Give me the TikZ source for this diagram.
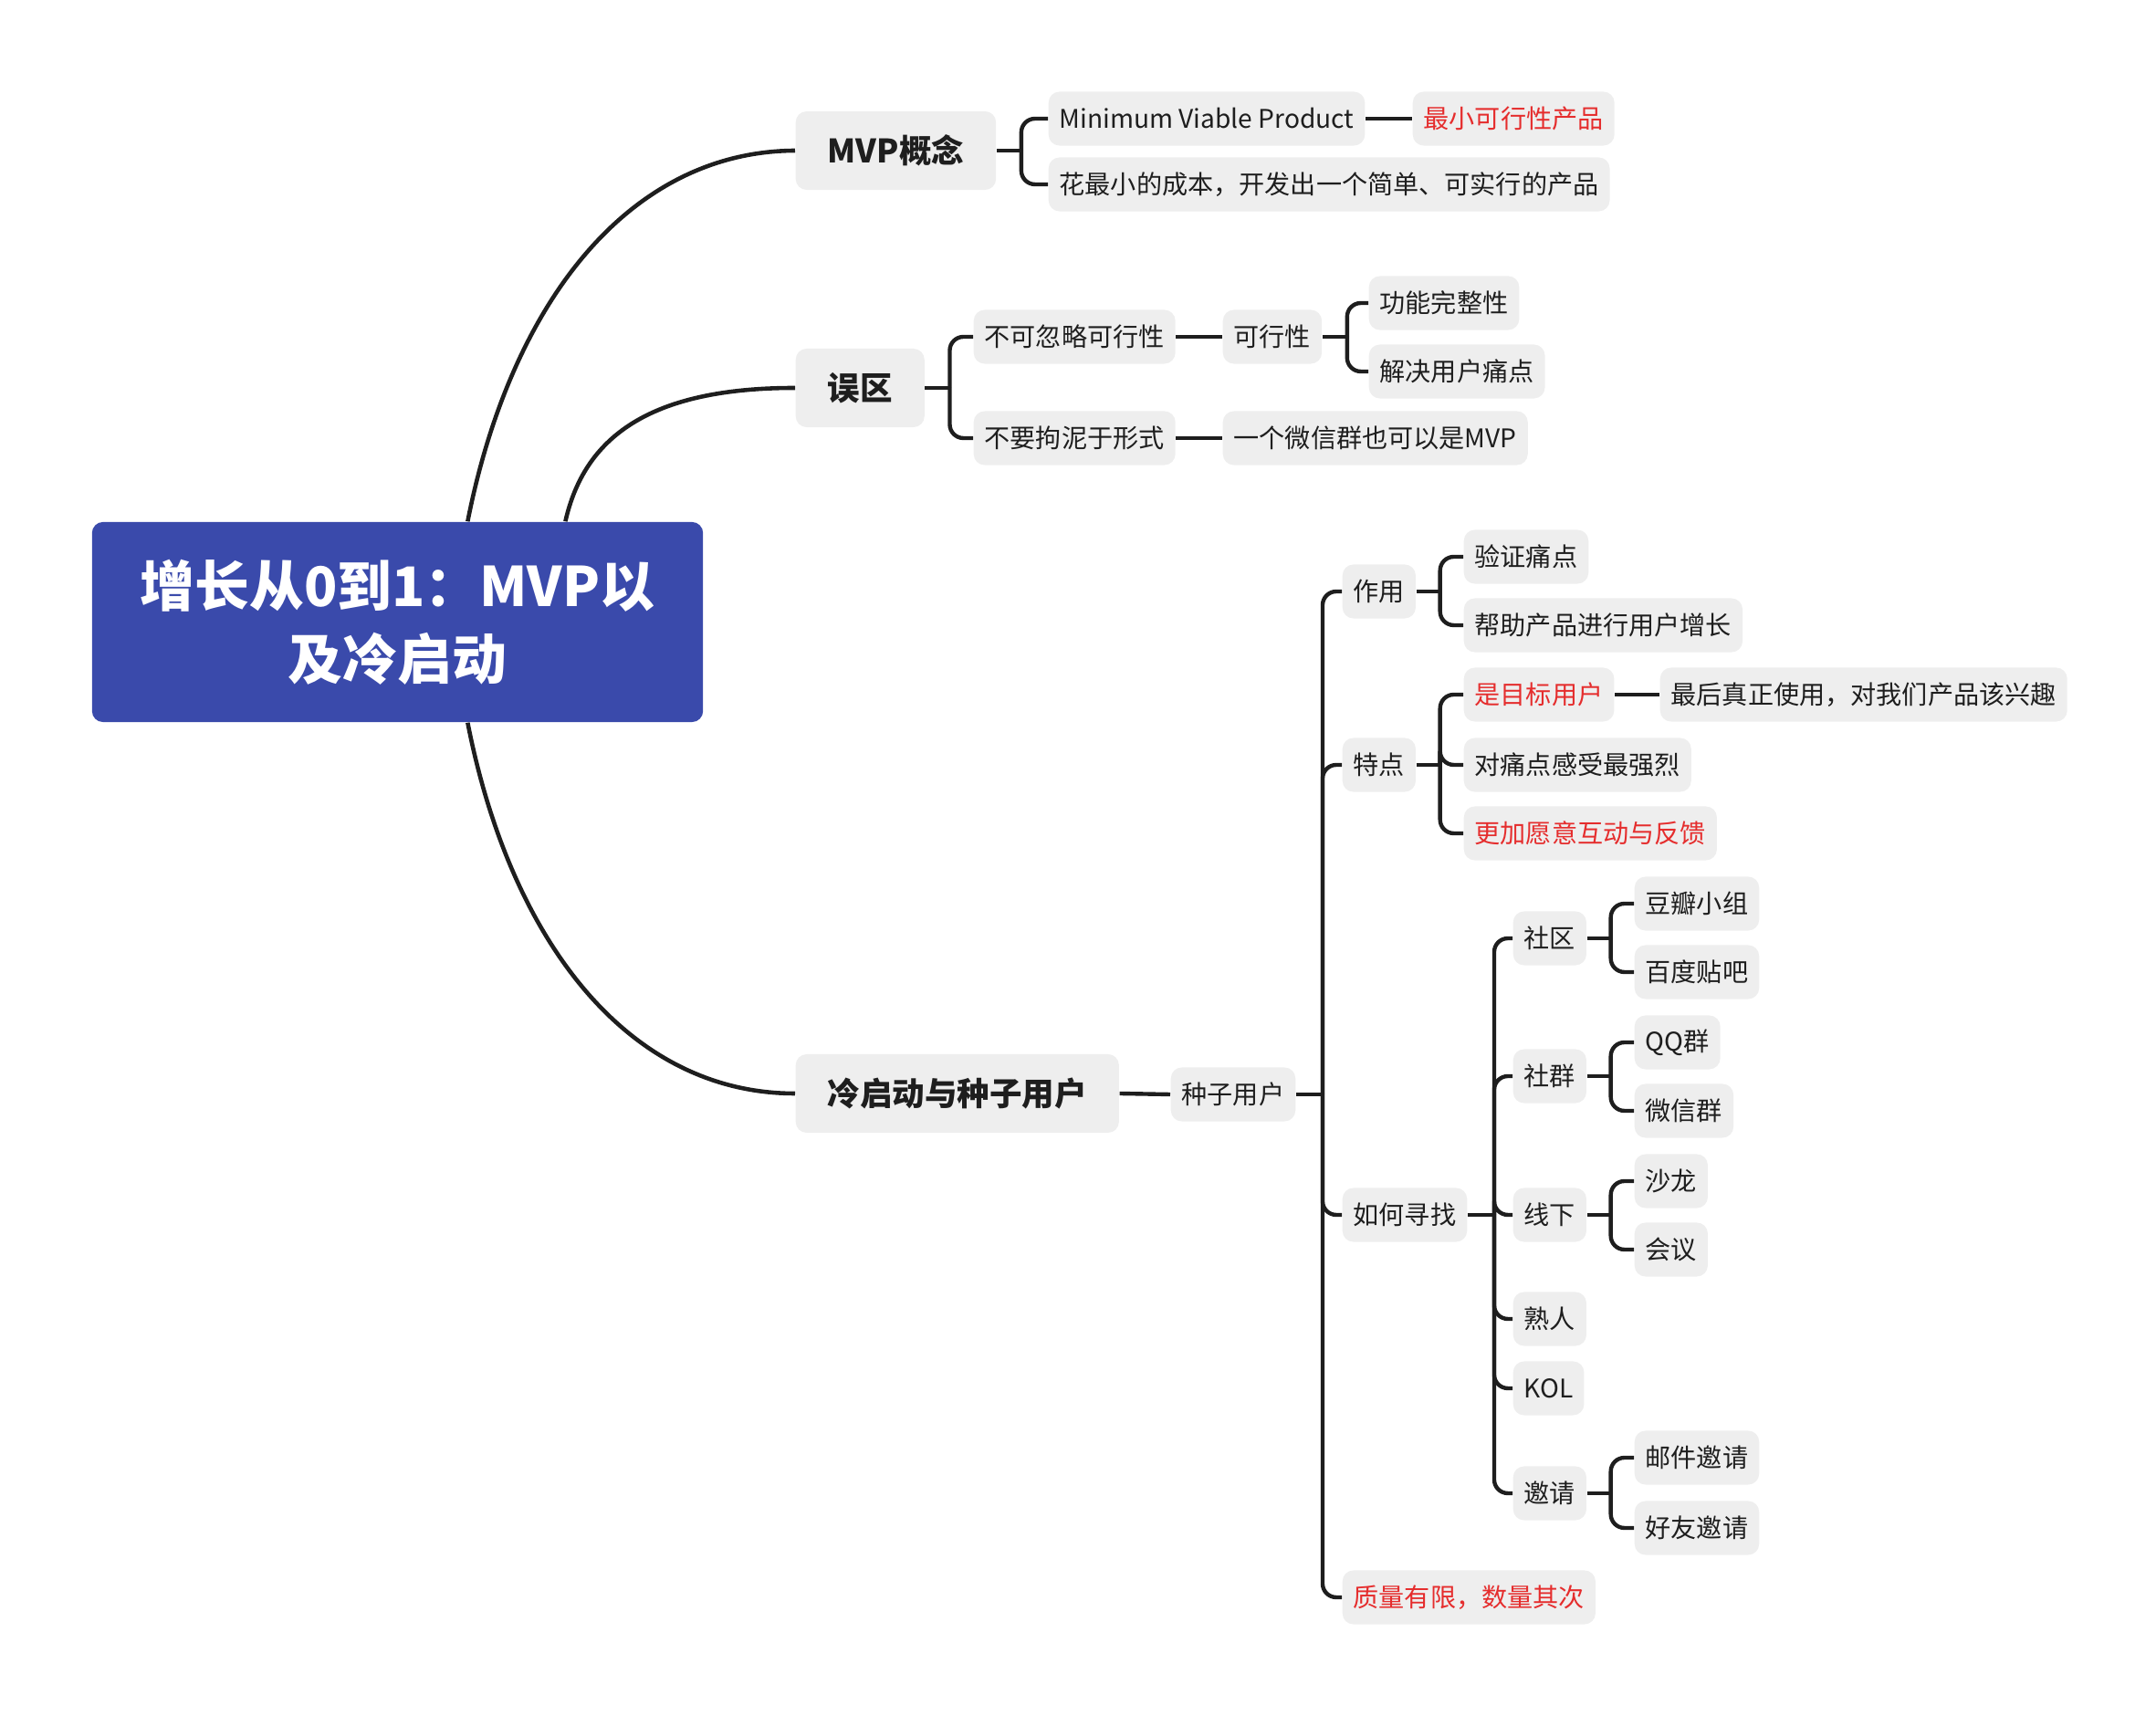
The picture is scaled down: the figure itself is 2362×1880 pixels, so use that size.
\documentclass[tikz,border=0pt]{standalone}
\usepackage{fontspec}
\setmainfont{Noto Sans CJK SC}
\usetikzlibrary{calc}
\definecolor{boxgray}{HTML}{EEEEEE}
\definecolor{txt}{HTML}{1E1E1E}
\definecolor{hlred}{HTML}{E52D2D}
\definecolor{rootblue}{HTML}{3A4AAB}
\begin{document}
\begin{tikzpicture}[x=0.01cm,y=-0.01cm,
  leaf/.style={fill=boxgray, rounded corners=0.12cm, text=txt, inner ysep=0pt,
    minimum height=0.59cm, inner xsep=0.12cm, anchor=west,
    font=\fontsize{8}{10}\selectfont},
  lvlone/.style={leaf, minimum height=0.86cm, inner xsep=0.35cm,
    font=\fontsize{10.1}{12}\selectfont\bfseries},
  hl/.style={text=hlred},
  conn/.style={draw=txt, line width=1.25pt},
  elbow/.style={conn, rounded corners=0.15cm},
  bigcurve/.style={draw=txt, line width=1.3pt},
  rootbox/.style={fill=rootblue, rounded corners=0.12cm, text=white,
    minimum width=6.69cm, minimum height=2.19cm, align=center, inner sep=0pt,
    font=\fontsize{17}{22.8}\selectfont\bfseries}
]
\useasboundingbox (0,0) rectangle (2362,1880);

% root
\node[rootbox] (root) at (435.5,681.5) {增长从0到1：MVP以\\及冷启动};

% level one
\node[lvlone] (mvp) at (871,165) {MVP概念};
\node[lvlone] (wq) at (871,425) {误区};
\node[lvlone] (lqd) at (871,1198) {冷启动与种子用户};

% MVP branch
\node[leaf] (mvpEn) at (1148,130) {Minimum Viable Product};
\node[leaf,hl] (mvpCn) at (1547,130) {最小可行性产品};
\node[leaf] (mvpDesc) at (1148,202) {花最小的成本，开发出一个简单、可实行的产品};

% 误区 branch
\node[leaf] (bk) at (1066,369) {不可忽略可行性};
\node[leaf] (kx) at (1339,369) {可行性};
\node[leaf] (gn) at (1499,332) {功能完整性};
\node[leaf] (jj) at (1499,407) {解决用户痛点};
\node[leaf] (bj) at (1066,480) {不要拘泥于形式};
\node[leaf] (wx) at (1339,480) {一个微信群也可以是MVP};

% 冷启动 branch
\node[leaf] (zz) at (1282,1199) {种子用户};
\node[leaf] (zy) at (1470,648) {作用};
\node[leaf] (td) at (1470,838) {特点};
\node[leaf] (rh) at (1470,1331) {如何寻找};
\node[leaf,hl] (zl) at (1470,1750) {质量有限，数量其次};

\node[leaf] (yz) at (1603,610) {验证痛点};
\node[leaf] (bz) at (1603,685) {帮助产品进行用户增长};
\node[leaf,hl] (mb) at (1603,761) {是目标用户};
\node[leaf] (zs) at (1818,761) {最后真正使用，对我们产品该兴趣};
\node[leaf] (dt) at (1603,838) {对痛点感受最强烈};
\node[leaf,hl] (gj) at (1603,913) {更加愿意互动与反馈};

\node[leaf] (sq) at (1657,1028) {社区};
\node[leaf] (sg) at (1657,1179) {社群};
\node[leaf] (xx) at (1657,1331) {线下};
\node[leaf] (sr) at (1657,1445) {熟人};
\node[leaf] (kol) at (1657,1521) {KOL};
\node[leaf] (yq) at (1657,1636) {邀请};

\node[leaf] (db) at (1790,990) {豆瓣小组};
\node[leaf] (bd) at (1790,1065) {百度贴吧};
\node[leaf] (qq) at (1790,1142) {QQ群};
\node[leaf] (wxq) at (1790,1217) {微信群};
\node[leaf] (sl) at (1790,1294) {沙龙};
\node[leaf] (hy) at (1790,1369) {会议};
\node[leaf] (yj) at (1790,1597) {邮件邀请};
\node[leaf] (hf) at (1790,1674) {好友邀请};

% root curves
\draw[bigcurve] ([xshift=4.12cm]root.north west) .. controls (560,330) and (690,166) .. (mvp.west);
\draw[bigcurve] ([xshift=5.19cm]root.north west) .. controls (640,480) and (710,425) .. (wq.west);
\draw[bigcurve] ([xshift=4.12cm]root.south west) .. controls (560,1034) and (690,1198) .. (lqd.west);

% straight links
\draw[conn] (mvpEn.east) -- (mvpCn.west);
\draw[conn] (bk.east) -- (kx.west);
\draw[conn] (bj.east) -- (wx.west);
\draw[conn] (lqd.east) -- (zz.west);
\draw[conn] (mb.east) -- (zs.west);

% brackets
\path (mvp.east) ++(27,0) coordinate (jmvp);
\draw[conn] (mvp.east) -- (jmvp);
\draw[elbow] (jmvp) |- (mvpEn.west);
\draw[elbow] (jmvp) |- (mvpDesc.west);

\path (wq.east) ++(27,0) coordinate (jwq);
\draw[conn] (wq.east) -- (jwq);
\draw[elbow] (jwq) |- (bk.west);
\draw[elbow] (jwq) |- (bj.west);

\path (kx.east) ++(27,0) coordinate (jkx);
\draw[conn] (kx.east) -- (jkx);
\draw[elbow] (jkx) |- (gn.west);
\draw[elbow] (jkx) |- (jj.west);

\path (zz.east) ++(29,0) coordinate (jzz);
\draw[conn] (zz.east) -- (jzz);
\draw[elbow] (jzz) |- (zy.west);
\draw[elbow] (jzz) |- (td.west);
\draw[elbow] (jzz) |- (rh.west);
\draw[elbow] (jzz) |- (zl.west);

\path (zy.east) ++(26,0) coordinate (jzy);
\draw[conn] (zy.east) -- (jzy);
\draw[elbow] (jzy) |- (yz.west);
\draw[elbow] (jzy) |- (bz.west);

\path (td.east) ++(26,0) coordinate (jtd);
\draw[conn] (td.east) -- (jtd);
\draw[elbow] (jtd) |- (mb.west);
\draw[elbow] (jtd) |- (dt.west);
\draw[elbow] (jtd) |- (gj.west);

\path (rh.east) ++(29,0) coordinate (jrh);
\draw[conn] (rh.east) -- (jrh);
\draw[elbow] (jrh) |- (sq.west);
\draw[elbow] (jrh) |- (sg.west);
\draw[elbow] (jrh) |- (xx.west);
\draw[elbow] (jrh) |- (sr.west);
\draw[elbow] (jrh) |- (kol.west);
\draw[elbow] (jrh) |- (yq.west);

\path (sq.east) ++(26,0) coordinate (jsq);
\draw[conn] (sq.east) -- (jsq);
\draw[elbow] (jsq) |- (db.west);
\draw[elbow] (jsq) |- (bd.west);

\path (sg.east) ++(26,0) coordinate (jsg);
\draw[conn] (sg.east) -- (jsg);
\draw[elbow] (jsg) |- (qq.west);
\draw[elbow] (jsg) |- (wxq.west);

\path (xx.east) ++(26,0) coordinate (jxx);
\draw[conn] (xx.east) -- (jxx);
\draw[elbow] (jxx) |- (sl.west);
\draw[elbow] (jxx) |- (hy.west);

\path (yq.east) ++(26,0) coordinate (jyq);
\draw[conn] (yq.east) -- (jyq);
\draw[elbow] (jyq) |- (yj.west);
\draw[elbow] (jyq) |- (hf.west);
\end{tikzpicture}
\end{document}
